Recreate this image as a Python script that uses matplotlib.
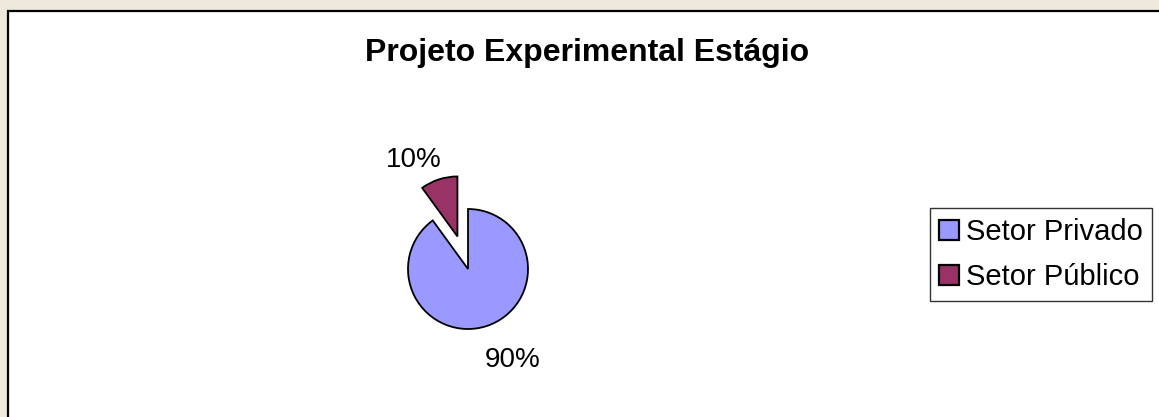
import matplotlib
matplotlib.use("Agg")
import matplotlib.pyplot as plt
from matplotlib.patches import Rectangle

title = "Projeto Experimental Estágio"
categories = ["Setor Privado", "Setor Público"]
values = [90, 10]
pct_labels = ["90%", "10%"]
colors = ["#9999ff", "#993366"]

W, H = 1159, 417
fig = plt.figure(figsize=(W / 100, H / 100), dpi=100)
fig.patch.set_facecolor("#efe9dc")
plt.rcParams['font.family'] = ['Liberation Sans', 'DejaVu Sans']

# chart area with border
fig.patches.append(Rectangle((8 / W, -0.05), 1.2, (H - 11) / H + 0.05,
                             transform=fig.transFigure, facecolor="white",
                             edgecolor="black", linewidth=1.6, zorder=-5))

fig.text(587 / W, 1 - 61 / H, title, ha="center", va="baseline",
         fontsize=23, fontweight="bold")

# pie axes: center (468,269), radius 60 px
R = 60
cx, cy = 468, 269
span = 2.6
ax = fig.add_axes([(cx - span * R) / W, 1 - (cy + span * R) / H,
                   2 * span * R / W, 2 * span * R / H])

wedges, _ = ax.pie(values, colors=colors, startangle=90, counterclock=False,
                   explode=[0, 0.57], radius=1,
                   wedgeprops=dict(edgecolor="black", linewidth=1.3))
ax.set_xlim(-span, span)
ax.set_ylim(-span, span)
ax.set_aspect("equal")
ax.axis("off")

label_pos = [(0.75, -1.63), (-0.9, 1.7)]
for (x, y), t in zip(label_pos, pct_labels):
    ax.text(x, y, t, ha="center", va="baseline", fontsize=20)

leg = fig.legend(wedges, categories, loc="center",
                 bbox_to_anchor=(1041 / W, 1 - 254.5 / H),
                 fontsize=21, frameon=True, fancybox=False,
                 handlelength=0.68, handleheight=0.68, handletextpad=0.22,
                 borderpad=0.34, labelspacing=0.6, borderaxespad=0)
leg.get_frame().set_edgecolor("black")
leg.get_frame().set_linewidth(1.0)
for h in leg.legend_handles:
    h.set_linewidth(1.6)

fig.savefig("out.png", dpi=100, facecolor=fig.get_facecolor())
